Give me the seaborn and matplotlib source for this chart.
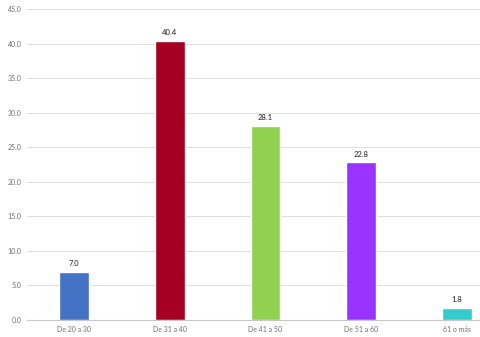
import matplotlib
matplotlib.use("Agg")
import matplotlib.pyplot as plt
import seaborn as sns
import pandas as pd

categories = ["De 20 a 30", "De 31 a 40", "De 41 a 50", "De 51 a 60", "61 o más"]
values = [7.0, 40.4, 28.1, 22.8, 1.8]
colors = ["#4472C4", "#A50021", "#92D050", "#9933FF", "#33CCCC"]
yticks = [0, 5, 10, 15, 20, 25, 30, 35, 40, 45]

sns.set_style("white")
plt.rcParams["font.family"] = ["Lato", "DejaVu Sans"]

df = pd.DataFrame({"cat": categories, "val": values})
fig = plt.figure(figsize=(4.8, 3.37), dpi=100)
ax = fig.add_axes([27/480, 17/337, 453/480, 311/337])
sns.barplot(data=df, x="cat", y="val", hue="cat", palette=colors, width=0.31,
            legend=False, ax=ax, saturation=1)
ax.set_xlim(-0.49, 4.24)
ax.set_ylim(0, 45)
ax.set_yticks(yticks)
ax.set_yticklabels([f"{v:.1f}" for v in yticks])
ax.grid(axis="y", color="#DDDDDD", linewidth=0.7)
ax.set_axisbelow(True)
for s in ["top", "right", "left"]:
    ax.spines[s].set_visible(False)
ax.spines["bottom"].set_color("#C8C8C8")
ax.spines["bottom"].set_linewidth(0.8)
ax.tick_params(axis="both", length=0, labelsize=5, colors="#6F6F6F", pad=4)
ax.set_xlabel("")
ax.set_ylabel("")
for i, v in enumerate(values):
    ax.text(i, v + 0.7, f"{v:.1f}", ha="center", va="bottom", fontsize=5.5,
            color="#404040", fontweight="semibold")
fig.savefig("out.png", dpi=100)
